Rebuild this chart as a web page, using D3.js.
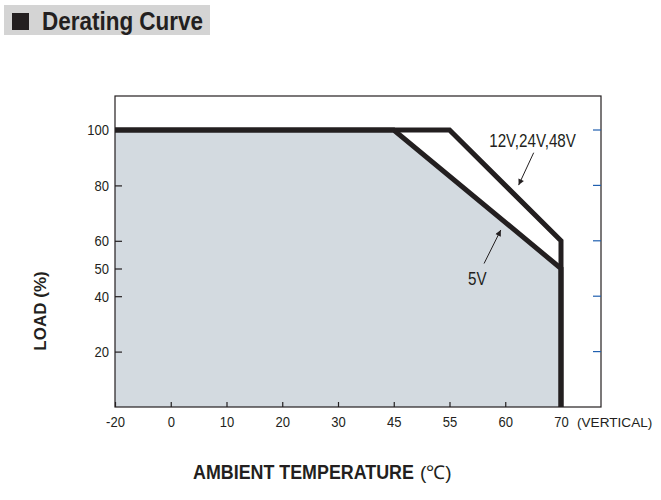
<!DOCTYPE html>
<html>
<head>
<meta charset="utf-8">
<script src="https://cdn.jsdelivr.net/npm/d3@7"></script>
<style>
  body { margin: 0; background: #fff; }
  svg text { fill: #231f20; }
</style>
</head>
<body>
<div class="chart"></div>
<script>
var w = 661;
var h = 500;

// axis ticks (the x axis is not linear: every tick sits one step apart)
var xTicks = [-20, 0, 10, 20, 30, 45, 55, 60, 70];
var yTicks = [20, 40, 50, 60, 80, 100];
var yRightTicks = [20, 40, 60, 80, 100];

// derating curves: ambient temperature (C) vs load (%)
var temp12 = [-20, 55, 70, 70];
var load12 = [100, 100, 60, 0];
var temp5 = [-20, 45, 70, 70];
var load5 = [100, 100, 50, 0];

// curve labels with arrow (tip / tail / label positions in data units)
var labels = ["12V,24V,48V", "5V"];
var labelAt = [[64.9, 94.0], [57.5, 44.0]];
var arrowTail = [[65.1, 91.8], [58.1, 51.8]];
var arrowTip = [[62.4, 80.1], [59.6, 63.9]];

var font = "'Liberation Sans', Arial, sans-serif";

var pLeft = 115, pRight = 601, pTop = 96, pBottom = 407;
var step = 55.75;

// squeeze text to look like a narrow face
function condense(sel, f) {
    sel.each(function() {
        var len = this.getComputedTextLength();
        d3.select(this)
            .attr("textLength", len * f)
            .attr("lengthAdjust", "spacingAndGlyphs");
    });
}

var xScale = d3.scaleLinear()
    .domain(xTicks)
    .range(xTicks.map(function(d, i) { return pLeft + i * step; }));

var yScale = d3.scaleLinear()
    .domain([0, 100])
    .range([pBottom, 130]);

var svg = d3.select(".chart")
    .append("svg")
    .attr("width", w)
    .attr("height", h);

// header
svg.append("rect")
    .attr("x", 4).attr("y", 5)
    .attr("width", 206).attr("height", 30)
    .attr("fill", "#d4d4d4");
svg.append("rect")
    .attr("x", 12).attr("y", 13)
    .attr("width", 17).attr("height", 17)
    .attr("fill", "#231f20");
svg.append("text")
    .attr("x", 42).attr("y", 30)
    .attr("font-family", font)
    .attr("font-weight", "bold")
    .attr("font-size", 25)
    .attr("textLength", 161)
    .attr("lengthAdjust", "spacingAndGlyphs")
    .text("Derating Curve");

// shaded area under the 5V curve
var pts5 = temp5.map(function(d, i) { return [d, load5[i]]; });
var pts12 = temp12.map(function(d, i) { return [d, load12[i]]; });

var area = d3.area()
    .x(function(d) { return xScale(d[0]); })
    .y0(yScale(0))
    .y1(function(d) { return yScale(d[1]); });

svg.append("path")
    .datum(pts5)
    .attr("d", area)
    .attr("fill", "#d3dae0");

// frame
svg.append("rect")
    .attr("x", pLeft).attr("y", pTop)
    .attr("width", pRight - pLeft).attr("height", pBottom - pTop)
    .attr("fill", "none")
    .attr("stroke", "#231f20")
    .attr("stroke-width", 1.2);

// axes
var xAxis = d3.axisBottom(xScale)
    .tickValues(xTicks)
    .tickSize(-5)
    .tickPadding(9)
    .tickFormat(function(d) { return String(d); });

var gx = svg.append("g")
    .attr("transform", "translate(0," + pBottom + ")")
    .call(xAxis);
gx.select(".domain").remove();

var yAxis = d3.axisLeft(yScale)
    .tickValues(yTicks)
    .tickSize(-7)
    .tickPadding(6);

var gy = svg.append("g")
    .attr("transform", "translate(" + pLeft + ",0)")
    .call(yAxis);
gy.select(".domain").remove();

svg.selectAll(".tick line").attr("stroke", "#231f20").attr("stroke-width", 1.2);
svg.selectAll(".tick text")
    .attr("font-family", font)
    .attr("font-size", 15.5)
    .attr("fill", "#231f20")
    .call(condense, 0.84);

svg.selectAll(".rtick")
    .data(yRightTicks)
    .enter()
    .append("line")
    .attr("class", "rtick")
    .attr("x1", pRight - 8).attr("x2", pRight)
    .attr("y1", function(d) { return yScale(d); })
    .attr("y2", function(d) { return yScale(d); })
    .attr("stroke", "#2060b0")
    .attr("stroke-width", 1.2);

svg.append("text")
    .attr("x", 577).attr("y", 427)
    .attr("font-family", font)
    .attr("font-size", 13.6)
    .text("(VERTICAL)");

// curves
var line = d3.line()
    .x(function(d) { return xScale(d[0]); })
    .y(function(d) { return yScale(d[1]); });

[pts12, pts5].forEach(function(p) {
    svg.append("path")
        .datum(p)
        .attr("d", line)
        .attr("fill", "none")
        .attr("stroke", "#231f20")
        .attr("stroke-width", 5)
        .attr("stroke-linejoin", "miter");
});

// arrows
svg.append("defs").append("marker")
    .attr("id", "arr")
    .attr("viewBox", "0 0 10 10")
    .attr("refX", 10).attr("refY", 5)
    .attr("markerWidth", 9).attr("markerHeight", 6)
    .attr("markerUnits", "userSpaceOnUse")
    .attr("orient", "auto")
    .append("path")
    .attr("d", "M0,0L10,5L0,10Z")
    .attr("fill", "#231f20");

labels.forEach(function(t, i) {
    svg.append("line")
        .attr("x1", xScale(arrowTail[i][0])).attr("y1", yScale(arrowTail[i][1]))
        .attr("x2", xScale(arrowTip[i][0])).attr("y2", yScale(arrowTip[i][1]))
        .attr("stroke", "#231f20")
        .attr("stroke-width", 1)
        .attr("marker-end", "url(#arr)");
    svg.append("text")
        .attr("x", xScale(labelAt[i][0])).attr("y", yScale(labelAt[i][1]))
        .attr("text-anchor", "middle")
        .attr("font-family", font)
        .attr("font-size", 18.5)
        .text(t)
        .call(condense, 0.82);
});

// axis titles
svg.append("text")
    .attr("transform", "translate(46,311) rotate(-90)")
    .attr("text-anchor", "middle")
    .attr("font-family", font)
    .attr("font-weight", "bold")
    .attr("font-size", 17)
    .text("LOAD (%)");

var xTitle = svg.append("text")
    .attr("font-family", font)
    .attr("font-weight", "bold")
    .attr("font-size", 20)
    .text("AMBIENT TEMPERATURE");
var sx = 221 / xTitle.node().getComputedTextLength();
xTitle.attr("transform", "translate(193,479) scale(" + sx + ",1)");

svg.append("text")
    .attr("x", 420).attr("y", 479)
    .attr("font-family", font)
    .attr("font-size", 19)
    .text("(℃)");
</script>
</body>
</html>
